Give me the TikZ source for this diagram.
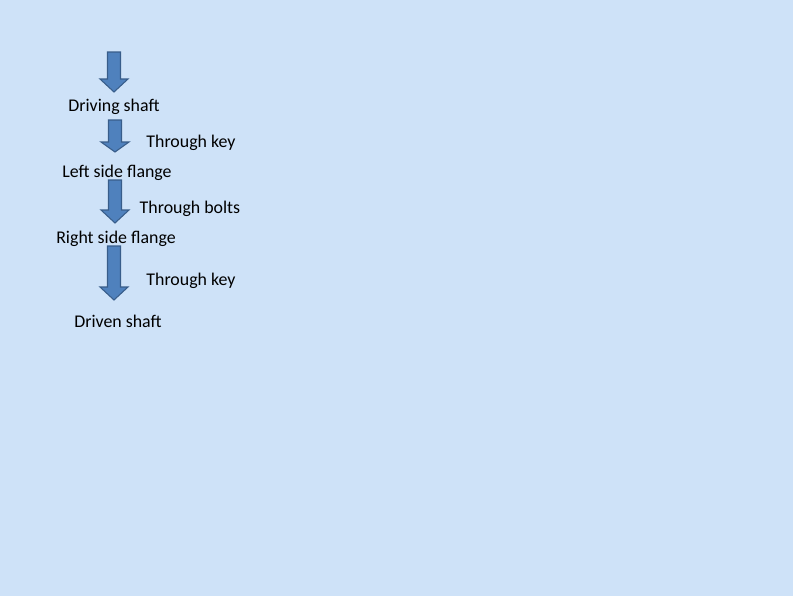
\documentclass[tikz,border=0pt]{standalone}
\usepackage{fontspec}
\setmainfont{Carlito}
\usepackage{xcolor}
\usepackage{tikz}

\definecolor{sky}{RGB}{206,226,248}
\definecolor{arrowfill}{RGB}{79,129,189}
\definecolor{arrowline}{RGB}{56,93,138}

% block arrow: centre x, top y, head start y, tip y
\newcommand\flowarrow[4]{%
  \draw[blk] (#1-6.5,#2) -- (#1+6.5,#2) -- (#1+6.5,#3) -- (#1+14,#3)
    -- (#1,#4) -- (#1-14,#3) -- (#1-6.5,#3) -- cycle;}

\begin{document}
\begin{tikzpicture}[x=0.75pt, y=-0.75pt, font=\fontsize{13.4}{16}\selectfont]
    \tikzstyle{blk}=[fill=arrowfill, draw=arrowline, line width=.8pt, line join=miter]
    \tikzstyle{lbl}=[inner sep=0pt, anchor=base]
    \fill[sky] (0,0) rectangle (793,596);
    \useasboundingbox (0,0) rectangle (793,596);

    \flowarrow{114}{52}{79}{92}
    \node[lbl] (driving) at (114,111) {Driving shaft};
    \flowarrow{115}{120}{142}{152}
    \node[lbl] (key1) at (191,147) {Through key};
    \node[lbl] (left) at (117,177) {Left side flange};
    \flowarrow{115}{180}{210}{223}
    \node[lbl] (bolts) at (190,213) {Through bolts};
    \node[lbl] (right) at (116,243) {Right side flange};
    \flowarrow{114}{246}{287}{300}
    \node[lbl] (key2) at (191,285) {Through key};
    \node[lbl] (driven) at (118,327) {Driven shaft};
\end{tikzpicture}
\end{document}
